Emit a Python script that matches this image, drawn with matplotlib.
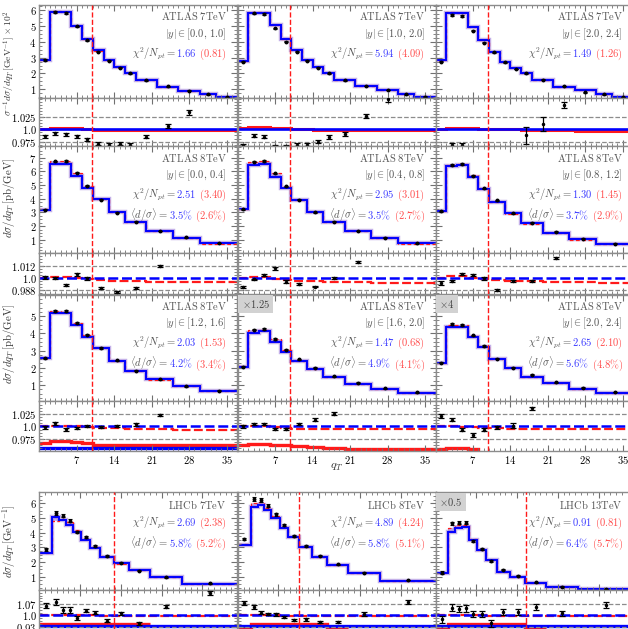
import numpy as np
import matplotlib
matplotlib.use('Agg')
import matplotlib.pyplot as plt
from matplotlib.ticker import MultipleLocator, AutoMinorLocator, FixedLocator, FixedFormatter, NullFormatter
from matplotlib.offsetbox import TextArea, HPacker, VPacker, AnchoredOffsetbox

plt.rcParams['mathtext.fontset'] = 'cm'
plt.rcParams['font.family'] = 'serif'
plt.rcParams['font.serif'] = ['DejaVu Serif']

# ---------------- data ----------------
atlas7_edges = [0, 2, 4, 6, 8, 10, 12, 14, 16, 18, 22, 26, 30, 33, 37]
atlas8_edges = [0, 2, 4, 6, 8, 10, 13, 16, 20, 25, 30, 37]
lhcb_edges = [0, 2.2, 3.4, 4.6, 5.8, 7.2, 8.7, 10.5, 12.8, 15.4, 19.0, 24.5, 34]

# ATLAS 7TeV (normalised, x 10^2)
atlas7_blue = [[2.85, 5.90, 5.85, 5.00, 4.15, 3.45, 2.85, 2.42, 2.05, 1.59, 1.17, 0.91, 0.70, 0.52],
               [2.78, 5.83, 5.83, 5.05, 4.15, 3.48, 2.85, 2.43, 2.05, 1.59, 1.21, 0.96, 0.68, 0.53],
               [2.85, 5.83, 5.79, 4.95, 4.11, 3.38, 2.74, 2.32, 2.01, 1.59, 1.17, 0.96, 0.68, 0.49]]
atlas7_red = [[2.86, 5.92, 5.87, 5.01, 4.15, 3.44, 2.84, 2.41, 2.04, 1.58, 1.16, 0.90, 0.69, 0.51],
              [2.79, 5.86, 5.86, 5.07, 4.17, 3.48, 2.85, 2.43, 2.05, 1.59, 1.21, 0.96, 0.68, 0.53],
              [2.85, 5.85, 5.81, 4.96, 4.12, 3.38, 2.74, 2.32, 2.01, 1.59, 1.17, 0.96, 0.68, 0.49]]
atlas7_data = [[2.84, 5.88, 5.83, 4.97, 4.10, 3.38, 2.79, 2.37, 2.00, 1.58, 1.18, 0.92, 0.68, 0.52],
               [2.74, 5.79, 5.75, 4.84, 4.00, 3.37, 2.80, 2.37, 2.02, 1.58, 1.20, 0.95, 0.68, 0.53],
               [2.74, 5.69, 5.62, 4.70, 3.94, 3.33, 2.70, 2.28, 2.01, 1.60, 1.21, 0.81, 0.68, 0.50]]
atlas7_data_err = [0.04, 0.05, 0.05, 0.05, 0.04, 0.04, 0.03, 0.03, 0.03, 0.03, 0.02, 0.02, 0.02, 0.02]
atlas7_ratio = [[0.986, 0.992, 0.990, 0.986, 0.980, 0.971, 0.969, 0.971, 0.969, 0.985, 1.007, 1.035, np.nan, np.nan],
                [0.968, 0.987, 0.985, 0.966, 0.966, 0.969, 0.969, 0.975, 0.985, 0.990, 1.028, 1.062, np.nan, np.nan],
                [np.nan, 0.968, 0.968, 0.952, 0.958, 0.950, np.nan, 0.955, 0.988, 1.011, 1.050, np.nan, np.nan, np.nan]]
atlas7_ratio_err = [[0.003, 0.003, 0.003, 0.003, 0.003, 0.003, 0.003, 0.003, 0.003, 0.003, 0.004, 0.005, 0, 0],
                    [0.003, 0.003, 0.003, 0.003, 0.003, 0.003, 0.003, 0.003, 0.004, 0.004, 0.004, 0.006, 0, 0],
                    [0, 0.004, 0.004, 0.006, 0.006, 0.006, 0, 0.006, 0.017, 0.015, 0.006, 0, 0, 0]]
atlas7_ratio_red = [[1.001, 1.003, 1.003, 1.002, 1.000, 0.999, 0.998, 0.998, 0.998, 0.998, 0.998, 0.998, 0.998, 0.998],
                    [1.002, 1.005, 1.005, 1.003, 1.003, 1.000, 1.000, 0.999, 0.999, 0.999, 0.999, 0.999, 0.998, 0.998],
                    [1.001, 1.003, 1.003, 1.002, 1.001, 1.000, 1.000, 1.000, 0.999, 0.998, 0.998, 0.997, 0.997, 0.997]]

# ATLAS 8TeV, |y| < 1.2
atlas8a_blue = [[3.20, 6.53, 6.55, 5.65, 4.76, 3.95, 3.00, 2.32, 1.64, 1.15, 0.74],
                [3.22, 6.46, 6.55, 5.60, 4.76, 3.90, 3.00, 2.32, 1.64, 1.15, 0.74],
                [3.10, 6.39, 6.46, 5.60, 4.68, 3.74, 2.93, 2.20, 1.52, 1.04, 0.69]]
atlas8a_red = [[3.22, 6.73, 6.76, 5.90, 4.95, 3.97, 3.01, 2.31, 1.62, 1.13, 0.72],
               [3.24, 6.70, 6.76, 5.85, 4.88, 3.92, 3.00, 2.31, 1.62, 1.13, 0.72],
               [3.12, 6.46, 6.53, 5.70, 4.80, 3.76, 2.92, 2.19, 1.50, 1.02, 0.68]]
atlas8a_data = [[3.20, 6.73, 6.76, 5.90, 4.95, 3.92, 2.97, 2.31, 1.65, 1.17, 0.77],
                [3.22, 6.70, 6.76, 5.85, 4.90, 3.92, 3.02, 2.32, 1.64, 1.15, 0.75],
                [3.10, 6.46, 6.53, 5.68, 4.78, 3.88, 2.93, 2.25, 1.60, 1.08, 0.73]]
atlas8a_ratio = [[1.0004, 1.0000, 0.9930, 1.0036, 0.9994, 0.9900, 0.9860, 0.9900, 1.0115, np.nan, np.nan],
                 [0.9912, 0.9984, 1.0027, 1.0092, 0.9960, 0.9938, 0.9912, 0.9994, 1.0157, np.nan, np.nan],
                 [0.9945, 0.9970, 1.0036, 1.0027, 0.9994, 0.9880, 0.9966, 0.9970, 1.0190, np.nan, np.nan]]
atlas8a_ratio_err = [[0.0015, 0.0008, 0.0008, 0.0015, 0.0015, 0.0008, 0.0009, 0.0008, 0.0008, 0, 0],
                     [0.0010, 0.0008, 0.0008, 0.0012, 0.0015, 0.0008, 0.0008, 0.0010, 0.0010, 0, 0],
                     [0.0020, 0.0008, 0.0010, 0.0012, 0.0012, 0.0012, 0.0012, 0.0012, 0.0010, 0, 0]]
atlas8a_ratio_red = [[1.0000, 1.0006, 1.0006, 0.9995, 0.9990, 0.9980, 0.9970, 0.9965, 0.9960, 0.9955, 0.9955],
                     [1.0000, 1.0009, 1.0009, 0.9990, 0.9980, 0.9970, 0.9965, 0.9960, 0.9955, 0.9950, 0.9945],
                     [1.0000, 1.0012, 1.0012, 1.0000, 0.9990, 0.9980, 0.9970, 0.9965, 0.9960, 0.9955, 0.9950]]

# ATLAS 8TeV, |y| > 1.2
atlas8b_blue = [[2.55, 5.17, 5.17, 4.49, 3.77, 3.13, 2.41, 1.83, 1.33, 0.94, 0.65],
                [2.06, 4.00, 4.14, 3.51, 2.93, 2.39, 1.93, 1.45, 1.06, 0.75, 0.52],
                [2.26, 4.39, 4.39, 3.77, 3.22, 2.49, 1.97, 1.45, 1.10, 0.75, 0.52]]
atlas8b_red = [[2.56, 5.30, 5.27, 4.62, 3.90, 3.15, 2.40, 1.82, 1.31, 0.92, 0.63],
               [2.08, 4.20, 4.20, 3.65, 3.03, 2.40, 1.92, 1.44, 1.05, 0.74, 0.51],
               [2.28, 4.49, 4.49, 3.86, 3.27, 2.50, 1.96, 1.44, 1.09, 0.74, 0.51]]
atlas8b_data = [[2.55, 5.30, 5.30, 4.62, 3.92, 3.15, 2.43, 1.83, 1.33, 0.94, 0.68],
                [2.06, 4.22, 4.25, 3.67, 3.05, 2.49, 2.00, 1.51, 1.12, 0.80, 0.57],
                [2.30, 4.55, 4.49, 3.88, 3.27, 2.54, 2.00, 1.60, 1.16, 0.84, 0.60]]
atlas8b_ratio = [[0.9988, 1.0068, 0.9948, 0.9970, 1.0000, 0.9988, 1.0000, 1.0048, 1.0234, np.nan, np.nan],
                 [1.0000, 1.0054, 1.0040, 0.9948, 0.9948, 1.0040, 1.0134, 1.0254, np.nan, np.nan, np.nan],
                 [1.0200, 1.0134, 0.9934, 0.9834, 0.9934, 0.9980, 1.0014, 1.0368, np.nan, np.nan, np.nan]]
atlas8b_ratio_err = [[0.003, 0.003, 0.003, 0.002, 0.002, 0.002, 0.002, 0.003, 0.002, 0, 0],
                     [0.003, 0.002, 0.002, 0.002, 0.002, 0.002, 0.003, 0.003, 0, 0, 0],
                     [0.004, 0.003, 0.003, 0.004, 0.003, 0.003, 0.005, 0.003, 0, 0, 0]]
atlas8b_ratio_red = [[1.0014, 1.0014, 1.0014, 1.0000, 0.9980, 0.9970, 0.9960, 0.9950, 0.9940, 0.9934, 0.9934],
                     [1.0000, 1.0000, 1.0000, 0.9980, 0.9960, 0.9955, 0.9950, 0.9945, 0.9940, 0.9940, 0.9940],
                     [1.0000, 1.0000, 0.9990, 0.9980, 0.9970, 0.9960, 0.9955, 0.9950, 0.9950, 0.9950, 0.9950]]
atlas8b_low_red = [[0.967, 0.970, 0.970, 0.968, 0.967, 0.962, 0.962, 0.962, 0.962, 0.962, 0.962],
                   [0.962, 0.965, 0.965, 0.963, 0.962, 0.960, 0.958, 0.956, 0.955, 0.954, 0.954],
                   [0.955, 0.957, 0.957, 0.955, 0.945, 0.940, 0.940, 0.940, 0.940, 0.940, 0.940]]
atlas8b_low_blue = [[0.957, 0.957, 0.957, 0.957, 0.957, 0.957, 0.957, 0.957, 0.957, 0.957, 0.957],
                    [0.945, 0.945, 0.945, 0.945, 0.945, 0.945, 0.945, 0.945, 0.945, 0.945, 0.945],
                    [0.940, 0.940, 0.940, 0.940, 0.940, 0.940, 0.940, 0.940, 0.940, 0.940, 0.940]]

# LHCb 7, 8, 13 TeV
lhcb_blue = [[2.59, 5.05, 4.86, 4.50, 4.06, 3.50, 2.93, 2.36, 1.91, 1.46, 1.00, 0.50],
             [3.16, 5.72, 5.88, 5.54, 4.97, 4.29, 3.68, 3.04, 2.36, 1.80, 1.23, 0.73],
             [1.23, 4.06, 4.29, 4.40, 3.50, 2.82, 2.14, 1.34, 1.00, 0.59, 0.32, 0.15]]
lhcb_red = [[2.62, 4.80, 4.95, 4.70, 4.20, 3.60, 3.00, 2.38, 1.90, 1.45, 0.98, 0.48],
            [3.20, 6.00, 6.10, 5.70, 5.10, 4.40, 3.72, 3.05, 2.36, 1.80, 1.23, 0.73],
            [1.25, 4.30, 4.50, 4.50, 3.55, 2.85, 2.15, 1.35, 1.00, 0.59, 0.32, 0.15]]
lhcb_data = [[2.86, 5.35, 5.15, 4.80, 4.06, 3.68, 3.09, 2.40, 1.95, 1.42, 0.97, 0.55],
             [3.56, 6.29, 6.22, 5.83, 5.24, 4.52, 3.77, 3.08, 2.43, 1.84, 1.28, 0.77],
             [1.28, 4.63, 4.68, 4.68, 3.43, 2.86, 2.06, 1.48, 1.07, 0.62, 0.32, 0.16]]
lhcb_data_err = [0.08, 0.12, 0.12, 0.10, 0.08, 0.07, 0.06, 0.05, 0.04, 0.03, 0.03, 0.02]
lhcb_ratio = [[1.060, 1.084, 1.033, 1.033, 0.981, 1.029, 1.016, 0.967, 1.012, 0.950, 1.053, 1.136],
              [1.074, 1.053, 1.016, 1.008, 1.006, 0.991, 0.971, 0.975, 0.960, 0.960, 1.008, 1.084],
              [0.975, 1.047, 1.040, 1.043, 1.008, 1.008, 0.950, 1.019, 1.019, 1.053, 1.012, 1.064]]
lhcb_ratio_err = [[0.015, 0.017, 0.020, 0.020, 0.012, 0.010, 0.010, 0.008, 0.010, 0.010, 0.010, 0.012],
                  [0.012, 0.012, 0.010, 0.008, 0.008, 0.008, 0.008, 0.008, 0.008, 0.008, 0.010, 0.012],
                  [0.020, 0.022, 0.020, 0.020, 0.018, 0.018, 0.020, 0.018, 0.018, 0.018, 0.018, 0.018]]
lhcb_ratio_red = [[1.000, 1.000, 1.000, 1.000, 1.000, 1.000, 1.000, 0.999, 0.998, 0.997, 0.996, 0.995],
                  [1.000, 1.000, 1.000, 1.000, 1.000, 0.999, 0.999, 0.998, 0.997, 0.996, 0.996, 0.995],
                  [1.000, 1.000, 1.000, 1.000, 1.000, 1.000, 0.999, 0.998, 0.997, 0.997, 0.996, 0.996]]
lhcb_low_red = [[0.944, 0.947, 0.947, 0.947, 0.945, 0.944, 0.944, 0.944, 0.944, 0.944, np.nan, np.nan],
                [0.930, 0.944, 0.944, 0.944, 0.944, 0.944, 0.944, 0.944, 0.944, 0.930, np.nan, np.nan],
                [0.930, 0.944, 0.944, 0.944, 0.944, 0.944, 0.944, 0.944, 0.944, 0.930, np.nan, np.nan]]
lhcb_low_blue = [0.936, 0.936, 0.936, 0.936, 0.936, 0.936, 0.936, 0.936, 0.936, 0.936, 0.936, 0.936]

atlas_cut = [9.8, 9.8, 9.8]
lhcb_cut = [12.9, 10.5, 15.5]

titles = [['ATLAS 7TeV'] * 3, ['ATLAS 8TeV'] * 3, ['ATLAS 8TeV'] * 3,
          ['LHCb 7TeV', 'LHCb 8TeV', 'LHCb 13TeV']]
y_ranges = [['[0.0,1.0]', '[1.0,2.0]', '[2.0,2.4]'],
            ['[0.0,0.4]', '[0.4,0.8]', '[0.8,1.2]'],
            ['[1.2,1.6]', '[1.6,2.0]', '[2.0,2.4]'],
            [None, None, None]]
chi2 = [[('1.66', '0.81'), ('5.94', '4.09'), ('1.49', '1.26')],
        [('2.51', '3.40'), ('2.95', '3.01'), ('1.30', '1.45')],
        [('2.03', '1.53'), ('1.47', '0.68'), ('2.65', '2.10')],
        [('2.69', '2.38'), ('4.89', '4.24'), ('0.91', '0.81')]]
dsig = [None,
        [('3.5', '2.6'), ('3.5', '2.7'), ('3.7', '2.9')],
        [('4.2', '3.4'), ('4.9', '4.1'), ('5.6', '4.8')],
        [('5.8', '5.2'), ('5.8', '5.1'), ('6.4', '5.7')]]
scale_tags = [[None] * 3, [None] * 3, [None, r'$\times1.25$', r'$\times4$'],
              [None, None, r'$\times0.5$']]

ylabels = [r'$\sigma^{-1}d\sigma/dq_T\,[\mathrm{GeV}^{-1}]\times10^{2}$',
           r'$d\sigma/dq_T\,[\mathrm{pb/GeV}]$',
           r'$d\sigma/dq_T\,[\mathrm{pb/GeV}]$',
           r'$d\sigma/dq_T\,[\mathrm{GeV}^{-1}]$']

# ---------------- layout (pixels) ----------------
W, H = 628, 629
fig = plt.figure(figsize=(W / 100, H / 100), dpi=100)

col_left = [39.3, 237.7, 435.5]
col_w = 198.0
row_px = [((5, 97.5), (97.5, 146)), ((146, 252.7), (252.7, 294.5)),
          ((294.5, 401), (401, 451)), ((492.3, 590), (590, 637))]
main_ylim = [(0.48, 6.32), (0.06, 7.85), (0.07, 6.26), (0.1, 6.74)]
main_yticks = [[1, 2, 3, 4, 5, 6], [1, 2, 3, 4, 5, 6, 7], [1, 2, 3, 4, 5], [1, 2, 3, 4, 5, 6]]
ratio_ylim = [(0.966, 1.065), (0.9835, 1.0246), (0.951, 1.051), (0.866, 1.157)]
ratio_ticks = [[0.975, 1.0, 1.025], [0.988, 1.0, 1.012], [0.975, 1.0, 1.025], [0.93, 1.0, 1.07]]
ratio_tlabels = [['0.975', '1.0', '1.025'], ['0.988', '1.0', '1.012'],
                 ['0.975', '1.0', '1.025'], ['0.93', '1.0', '1.07']]
ylabel_y = [63, 198, 344, 541]
ylabel_fs = [6.9, 7.8, 7.8, 7.8]

GRAY = '#555555'
SPINE = '#8c8c8c'
BLUE = '#0000ff'
RED = '#ff1a1a'
BAND = '#8a63d2'
TBLUE = '#3a3aff'
TRED = '#ff4d4d'
FS = 7.6


def px_axes(left, top, bottom):
    return fig.add_axes([left / W, 1 - bottom / H, col_w / W, (bottom - top) / H])


def style(ax, xlim, show_x):
    ax.set_xlim(*xlim)
    ax.xaxis.set_major_locator(FixedLocator([7, 14, 21, 28, 35]))
    ax.xaxis.set_minor_locator(MultipleLocator(1))
    ax.tick_params(which='both', direction='in', top=True, right=True, color='#707070',
                   labelsize=FS, pad=2)
    ax.tick_params(which='major', length=4, width=0.8)
    ax.tick_params(which='minor', length=2, width=0.6)
    for s in ax.spines.values():
        s.set_color(SPINE)
        s.set_linewidth(1.0)
    if show_x:
        ax.xaxis.set_major_formatter(FixedFormatter(['$7$', '$14$', '$21$', '$28$', '$35$']))
    else:
        ax.xaxis.set_major_formatter(NullFormatter())


def info_box(ax, lines, height_px):
    rows = []
    for parts in lines:
        kids = [TextArea(t, textprops=dict(color=c, size=FS)) for t, c in parts]
        rows.append(HPacker(children=kids, align='baseline', pad=0, sep=0))
    vp = VPacker(children=rows, align='right', pad=0, sep=2.6)
    ab = AnchoredOffsetbox(loc='upper right', child=vp, pad=0, borderpad=0, frameon=False,
                           bbox_to_anchor=(1 - 10.5 / col_w, 1 - 5.5 / height_px),
                           bbox_transform=ax.transAxes)
    ax.add_artist(ab)


rows = [
    dict(edges=atlas7_edges, blue=atlas7_blue, red=atlas7_red, data=atlas7_data,
         derr=atlas7_data_err, ratio=atlas7_ratio, rerr=atlas7_ratio_err,
         rred=atlas7_ratio_red, low_red=None, low_blue=None, cut=atlas_cut,
         xlim=(0, 37), solid=True),
    dict(edges=atlas8_edges, blue=atlas8a_blue, red=atlas8a_red, data=atlas8a_data,
         derr=atlas7_data_err[:11], ratio=atlas8a_ratio, rerr=atlas8a_ratio_err,
         rred=atlas8a_ratio_red, low_red=None, low_blue=None, cut=atlas_cut,
         xlim=(0, 37), solid=False),
    dict(edges=atlas8_edges, blue=atlas8b_blue, red=atlas8b_red, data=atlas8b_data,
         derr=atlas7_data_err[:11], ratio=atlas8b_ratio, rerr=atlas8b_ratio_err,
         rred=atlas8b_ratio_red, low_red=atlas8b_low_red, low_blue=atlas8b_low_blue,
         cut=atlas_cut, xlim=(0, 37), solid=False),
    dict(edges=lhcb_edges, blue=lhcb_blue, red=lhcb_red, data=lhcb_data,
         derr=lhcb_data_err, ratio=lhcb_ratio, rerr=lhcb_ratio_err,
         rred=lhcb_ratio_red, low_red=lhcb_low_red, low_blue=[lhcb_low_blue] * 3,
         cut=lhcb_cut, xlim=(0, 34), solid=False),
]

for r, cfg in enumerate(rows):
    edges = np.array(cfg['edges'], dtype=float)
    centers = 0.5 * (edges[1:] + edges[:-1])
    (mt, mb), (rt, rb) = row_px[r]
    for c in range(3):
        blue = np.array(cfg['blue'][c])
        red = np.array(cfg['red'][c])
        # ---- main panel ----
        ax = px_axes(col_left[c], mt, mb)
        ax.stairs(np.maximum(blue, red), edges, baseline=np.minimum(blue, red), fill=True,
                  color=BAND, alpha=0.45, lw=0)
        ax.stairs(blue, edges, baseline=None, color=BAND, lw=3.2, alpha=0.5)
        ax.stairs(red, edges, baseline=None, color=RED, lw=0.9, ls=(0, (3, 2)))
        ax.stairs(blue, edges, baseline=None, color=BLUE, lw=1.4)
        ax.errorbar(centers, cfg['data'][c], yerr=cfg['derr'], fmt='o', ms=1.8, color='k',
                    capsize=1.5, elinewidth=0.8, capthick=0.8, zorder=5)
        ax.axvline(cfg['cut'][c], color=RED, ls='--', lw=1.0, zorder=6)
        style(ax, cfg['xlim'], False)
        ax.set_ylim(*main_ylim[r])
        ax.yaxis.set_major_locator(FixedLocator(main_yticks[r]))
        ax.yaxis.set_minor_locator(AutoMinorLocator(4))
        if c == 0:
            ax.yaxis.set_major_formatter(FixedFormatter(['$%d$' % v for v in main_yticks[r]]))
        else:
            ax.yaxis.set_major_formatter(NullFormatter())
        lines = [[(r'$\mathrm{%s}$' % titles[r][c].replace(' ', r'\ '), GRAY)]]
        if y_ranges[r][c] is not None:
            lines.append([(r'$|y|\in%s$' % y_ranges[r][c].replace(',', r',\,'), GRAY)])
        b, rd = chi2[r][c]
        lines.append([(r'$\chi^2/N_{pt}=$', GRAY), ('$%s$' % b, TBLUE), (r'$\ (%s)$' % rd, TRED)])
        if dsig[r] is not None:
            b, rd = dsig[r][c]
            lines.append([(r'$\langle d/\sigma\rangle=$', GRAY), (r'$%s\%%$' % b, TBLUE),
                          (r'$\ (%s\%%)$' % rd, TRED)])
        info_box(ax, lines, mb - mt)
        if scale_tags[r][c]:
            ax.text(0.02, 0.965, scale_tags[r][c], transform=ax.transAxes, ha='left', va='top',
                    fontsize=FS, color='#444444',
                    bbox=dict(boxstyle='square,pad=0.3', fc='#d2d2d2', ec='none'))

        # ---- ratio panel ----
        axr = px_axes(col_left[c], rt, rb)
        lo, mid, hi = ratio_ticks[r]
        axr.axhline(hi, color='#8c8c8c', ls='--', lw=0.9)
        axr.axhline(lo, color='#8c8c8c', ls='--', lw=0.9)
        if cfg['low_red'] is not None:
            axr.stairs(cfg['low_red'][c], edges, baseline=None, color=RED, lw=2.4)
            axr.stairs(cfg['low_blue'][c], edges, baseline=None, color=BLUE, lw=2.4)
        if cfg['solid']:
            axr.stairs(cfg['rred'][c], edges, baseline=None, color=RED, lw=2.2)
            axr.axhline(1.0, color=BLUE, lw=1.9)
        else:
            axr.axhline(1.0, color=BLUE, lw=1.8, ls=(0, (4, 1.5)))
            axr.stairs(cfg['rred'][c], edges, baseline=None, color=RED, lw=1.6, ls=(0, (4, 1.5)))
        axr.errorbar(centers, cfg['ratio'][c], yerr=cfg['rerr'][c], fmt='o', ms=1.5, color='k',
                     capsize=2, elinewidth=0.9, capthick=0.9, zorder=5)
        axr.axvline(cfg['cut'][c], color=RED, ls='--', lw=1.0, zorder=6)
        style(axr, cfg['xlim'], r == 2)
        axr.set_ylim(*ratio_ylim[r])
        axr.yaxis.set_major_locator(FixedLocator(ratio_ticks[r]))
        axr.yaxis.set_minor_locator(AutoMinorLocator(4))
        if c == 0:
            axr.yaxis.set_major_formatter(FixedFormatter(['$%s$' % s for s in ratio_tlabels[r]]))
        else:
            axr.yaxis.set_major_formatter(NullFormatter())

    fig.text(9 / W, 1 - ylabel_y[r] / H, ylabels[r], rotation=90, ha='center', va='center',
             fontsize=ylabel_fs[r], color='#333333')

fig.text(337 / W, 1 - 467 / H, r'$q_T$', ha='center', va='center', fontsize=8.5, color='#333333')

fig.savefig('out.png', dpi=100)
